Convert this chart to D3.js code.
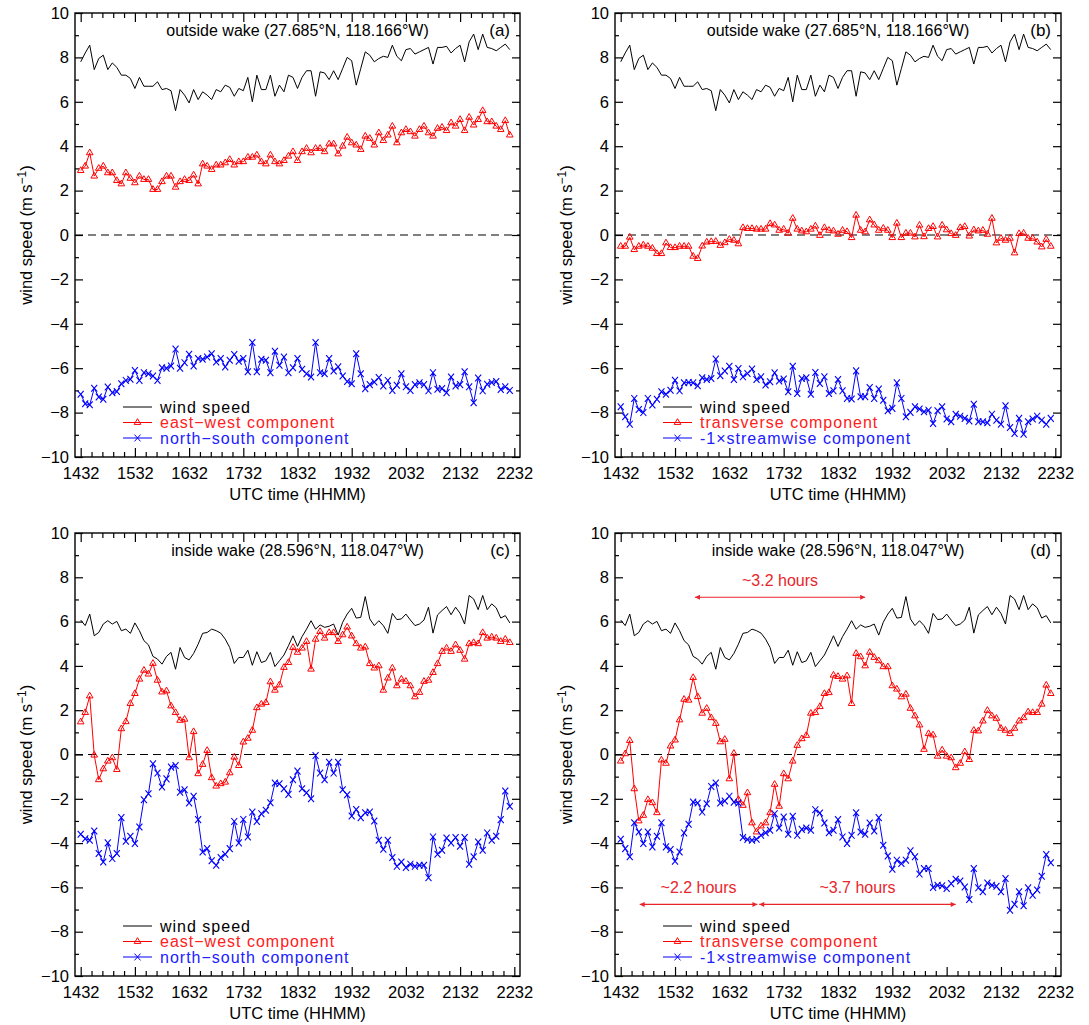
<!DOCTYPE html>
<html>
<head>
<meta charset="utf-8">
<script src="https://cdn.jsdelivr.net/npm/d3@7"></script>
<style>
  body { margin: 0; background: #fff; }
  text { font-family: "Liberation Sans", Arial, Helvetica, sans-serif; }
</style>
</head>
<body>
<svg id="chart" width="1089" height="1025"></svg>
<script>
// sample times: minutes after 14:32 UTC, one every 5 min
var minutes = d3.range(0, 480, 5);
var hourTickLabels = ["1432", "1532", "1632", "1732", "1832", "1932", "2032", "2132", "2232"];
var yTickValues = [-10, -8, -6, -4, -2, 0, 2, 4, 6, 8, 10];

// outside wake
var speedOutside = [7.8, 8.2, 8.55, 7.45, 7.95, 8.1, 7.45, 7.75, 7.55, 7.2,
  7.2, 7.05, 6.6, 7.1, 6.7, 6.7, 6.7, 6.9, 6.55, 6.6,
  6.5, 5.6, 6.55, 6.3, 5.95, 6.55, 6.1, 6.45, 6.3, 6.1,
  6.55, 6.45, 6.75, 6.65, 6.25, 6.6, 6.5, 7.1, 6.0, 7.2,
  6.55, 6.55, 7.2, 6.25, 6.75, 6.45, 7.2, 7.1, 6.6, 7.1,
  7.4, 7.4, 6.25, 7.35, 7.3, 7.0, 7.4, 7.0, 7.5, 8.0,
  7.85, 6.75, 7.5, 8.25, 8.1, 7.8, 7.95, 8.05, 8.0, 8.55,
  8.05, 7.85, 8.35, 8.4, 8.15, 8.25, 8.35, 8.45, 7.7, 8.45,
  8.45, 8.5, 8.2, 8.4, 8.55, 7.8, 8.7, 9.05, 8.35, 9.05,
  8.45, 8.4, 8.3, 8.45, 8.6, 8.35];
var eastWestOutside = [2.9, 3.1, 3.7, 2.65, 3.0, 3.1, 2.8, 2.8, 2.45, 2.3,
  2.8, 2.55, 2.35, 2.65, 2.5, 2.5, 2.05, 2.05, 2.4, 2.65,
  2.65, 2.15, 2.4, 2.5, 2.45, 2.7, 2.3, 3.2, 3.1, 2.95,
  3.15, 3.15, 3.25, 3.4, 3.15, 3.3, 3.3, 3.5, 3.5, 3.6,
  3.3, 3.2, 3.6, 3.3, 3.2, 3.35, 3.55, 3.75, 3.35, 3.75,
  3.9, 3.7, 3.9, 3.9, 3.75, 4.1, 4.1, 3.65, 4.0, 4.4,
  4.15, 4.05, 3.85, 4.45, 4.35, 4.05, 4.6, 4.25, 4.5, 4.9,
  4.15, 4.6, 4.75, 4.65, 4.45, 4.75, 4.9, 4.6, 4.45, 4.8,
  4.85, 4.7, 5.05, 4.9, 5.2, 4.7, 5.3, 4.95, 5.2, 5.6,
  5.1, 5.1, 4.9, 4.75, 5.15, 4.5];
var northSouthOutside = [-7.17, -7.6, -7.65, -6.9, -7.3, -7.4, -6.85, -7.1, -7.05, -6.7,
  -6.55, -6.5, -6.1, -6.55, -6.2, -6.25, -6.35, -6.55, -5.98, -6.0,
  -5.9, -5.14, -6.0, -5.75, -5.37, -5.9, -5.56, -5.6, -5.5, -5.35,
  -5.72, -5.56, -5.94, -5.64, -5.38, -5.69, -5.56, -6.16, -4.84, -6.16,
  -5.6, -5.64, -6.2, -5.24, -5.87, -5.5, -6.2, -5.98, -5.56, -6.05,
  -6.25, -6.4, -4.84, -6.2, -6.25, -5.56, -6.13, -5.94, -6.35, -6.6,
  -6.7, -5.35, -6.25, -6.92, -6.74, -6.62, -6.42, -6.8, -6.55, -7.0,
  -6.77, -6.25, -6.84, -7.0, -6.74, -6.66, -6.74, -7.02, -6.2, -6.95,
  -6.92, -7.1, -6.4, -6.8, -6.74, -6.16, -6.84, -7.56, -6.44, -7.02,
  -6.72, -6.64, -6.6, -6.96, -6.84, -7.0];
var transverseOutside = [-0.51, -0.51, -0.1, -0.66, -0.51, -0.45, -0.51, -0.6, -0.84, -0.84,
  -0.36, -0.57, -0.57, -0.51, -0.51, -0.51, -0.96, -1.06, -0.5, -0.32,
  -0.3, -0.29, -0.47, -0.35, -0.2, -0.24, -0.4, 0.33, 0.29, 0.29,
  0.26, 0.26, 0.26, 0.51, 0.45, 0.21, 0.26, 0.08, 0.75, 0.26,
  0.18, 0.14, 0.26, 0.4, -0.02, 0.33, 0.21, 0.18, 0.03, 0.21,
  0.15, -0.12, 0.89, 0.21, 0.14, 0.68, 0.45, 0.21, 0.3, 0.21,
  -0.12, 0.53, -0.12, 0.08, 0.08, -0.09, 0.44, -0.08, 0.29, 0.38,
  -0.09, 0.44, 0.23, 0.06, -0.02, 0.33, 0.38, -0.05, 0.23, 0.18,
  0.21, 0.03, 0.75, -0.36, -0.15, -0.24, -0.15, -0.81, 0.06, 0.08,
  -0.15, -0.15, -0.32, -0.54, -0.2, -0.51];
var streamwiseOutside = [-7.74, -8.19, -8.52, -7.36, -7.86, -8.0, -7.36, -7.66, -7.4, -7.06,
  -7.17, -6.99, -6.54, -7.02, -6.66, -6.64, -6.66, -6.79, -6.43, -6.51,
  -6.46, -5.59, -6.34, -6.13, -5.91, -6.51, -6.01, -6.39, -6.24, -6.04,
  -6.51, -6.39, -6.76, -6.61, -6.21, -6.58, -6.49, -7.06, -5.91, -7.14,
  -6.46, -6.43, -7.17, -6.19, -6.69, -6.39, -7.14, -7.02, -6.51, -7.02,
  -7.36, -7.39, -6.12, -7.29, -7.29, -6.87, -7.36, -6.94, -7.44, -7.92,
  -7.81, -6.66, -7.36, -8.19, -7.99, -7.74, -7.84, -7.96, -7.89, -8.49,
  -7.92, -7.74, -8.29, -8.41, -8.08, -8.16, -8.26, -8.38, -7.62, -8.41,
  -8.41, -8.46, -8.07, -8.34, -8.52, -7.69, -8.67, -8.94, -8.26, -8.97,
  -8.41, -8.29, -8.16, -8.34, -8.52, -8.26];

// inside wake
var speedInside = [6.07, 5.82, 6.34, 5.36, 5.51, 5.89, 6.04, 5.89, 6.01, 5.59,
  5.66, 5.47, 5.94, 5.59, 5.14, 4.95, 4.43, 4.31, 4.08, 4.43,
  4.61, 3.85, 4.83, 4.38, 4.27, 4.56, 4.98, 5.47, 5.51, 5.66,
  5.59, 5.48, 5.21, 4.83, 4.11, 4.38, 4.38, 4.71, 4.03, 4.64,
  4.15, 4.23, 4.61, 3.97, 4.23, 4.49, 4.91, 5.36, 4.88, 5.32,
  5.66, 6.04, 5.66, 5.85, 5.74, 5.79, 5.89, 5.39, 5.97, 6.34,
  6.6, 6.16, 6.19, 7.13, 6.12, 5.82, 6.04, 5.82, 5.47, 6.37,
  6.09, 6.12, 6.34, 6.07, 5.82, 5.89, 6.07, 6.65, 5.48, 6.3,
  6.5, 6.68, 6.31, 6.65, 6.37, 5.89, 7.18, 7.02, 6.54, 7.18,
  6.54, 6.8, 6.62, 6.16, 6.27, 5.94];
var eastWestInside = [1.47, 1.89, 2.64, -0.03, -1.14, -0.65, -0.3, -0.15, -0.68, 1.16,
  1.48, 2.3, 2.75, 3.4, 3.8, 3.63, 4.11, 3.35, 2.82, 2.87,
  2.19, 1.89, 1.54, 1.59, -0.15, 1.03, -0.87, -0.45, 0.18, -1.05,
  -1.43, -1.32, -1.25, -0.83, -0.12, -0.5, 0.56, 0.73, 1.09, 2.11,
  2.27, 2.34, 3.28, 2.9, 3.14, 3.93, 4.15, 4.83, 4.61, 4.8,
  5.1, 3.85, 5.2, 5.55, 5.25, 5.5, 5.5, 5.1, 5.4, 5.75,
  5.35, 5.0, 4.8, 4.85, 4.1, 3.9, 4.0, 2.9, 3.45, 3.9,
  3.1, 3.4, 3.3, 3.1, 2.6, 2.8, 3.3, 3.35, 3.7, 4.1,
  4.65, 4.8, 4.65, 4.95, 4.7, 4.3, 5.0, 5.05, 5.0, 5.5,
  5.25, 5.3, 5.25, 5.1, 5.2, 5.05];
var northSouthInside = [-3.6, -3.8, -3.87, -3.45, -4.47, -4.85, -3.99, -4.7, -4.47, -2.85,
  -3.92, -3.69, -4.02, -3.27, -2.04, -1.77, -0.42, -0.84, -1.47, -1.1,
  -0.57, -0.5, -1.7, -1.59, -2.19, -1.89, -2.94, -4.4, -4.25, -4.8,
  -5.0, -4.65, -4.5, -4.25, -3.02, -3.99, -2.93, -3.72, -2.6, -3.02,
  -2.67, -2.52, -2.18, -1.29, -1.32, -1.55, -1.8, -1.14, -0.75, -1.55,
  -1.73, -2.0, -0.05, -0.84, -1.14, -0.35, -0.84, -0.35, -1.59, -1.82,
  -2.78, -2.48, -2.85, -2.63, -2.6, -3.0, -3.87, -4.28, -3.87, -4.65,
  -5.05, -4.85, -5.1, -4.95, -5.05, -5.0, -5.0, -5.56, -3.72, -4.5,
  -4.32, -3.77, -3.99, -3.75, -4.14, -3.75, -4.95, -4.62, -3.95, -4.32,
  -3.54, -3.87, -3.69, -2.94, -1.65, -2.34];
var transverseInside = [-0.3, 0.03, 0.63, -1.55, -3.0, -2.75, -2.04, -2.18, -2.63, -0.25,
  -0.4, 0.38, 0.65, 1.56, 2.49, 2.45, 3.47, 2.61, 1.86, 2.08,
  1.66, 1.4, 0.57, 0.68, -1.1, 0.05, -2.04, -2.3, -1.73, -3.09,
  -3.5, -3.23, -3.09, -2.63, -1.35, -2.34, -0.87, -1.1, -0.3, 0.41,
  0.71, 0.86, 1.86, 1.89, 2.16, 2.75, 2.79, 3.58, 3.52, 3.4,
  3.55, 2.3, 4.56, 4.41, 4.0, 4.61, 4.38, 4.23, 3.96, 3.96,
  3.1, 2.95, 2.6, 2.72, 2.08, 1.74, 1.33, 0.23, 0.94, 0.88,
  -0.08, 0.2, -0.08, -0.15, -0.6, -0.4, 0.12, -0.23, 1.09, 1.06,
  1.51, 1.99, 1.74, 1.63, 1.18, 1.09, 0.94, 1.18, 1.51, 1.66,
  1.92, 1.89, 1.89, 2.27, 3.13, 2.75];
var streamwiseInside = [-3.83, -4.25, -4.62, -3.08, -3.5, -4.02, -3.5, -4.17, -3.69, -3.08,
  -4.17, -4.29, -4.82, -4.4, -3.54, -3.15, -2.15, -2.19, -2.6, -2.22,
  -1.44, -1.29, -2.19, -2.1, -1.88, -2.15, -2.19, -3.75, -3.84, -3.87,
  -3.83, -3.65, -3.53, -3.42, -2.67, -3.32, -2.82, -3.6, -2.79, -3.65,
  -3.38, -3.32, -3.42, -2.49, -2.64, -3.09, -3.53, -3.42, -2.94, -3.72,
  -4.02, -3.65, -2.63, -3.5, -3.6, -3.09, -3.45, -2.85, -4.1, -4.58,
  -5.18, -4.77, -4.92, -4.77, -4.35, -4.62, -5.4, -5.15, -5.15, -6.0,
  -5.9, -5.93, -6.05, -5.83, -5.63, -5.71, -5.98, -6.55, -5.15, -6.02,
  -6.2, -5.8, -5.9, -5.95, -6.2, -5.6, -7.03, -6.76, -6.2, -6.83,
  -6.02, -6.35, -6.12, -5.5, -4.52, -4.89];

// period annotations for panel (d): minutes after 14:32, height in m/s
var periodLabels = ["~3.2 hours", "~2.2 hours", "~3.7 hours"];
var periodStart = [82, 21, 153];
var periodEnd = [270, 151, 370];
var periodLevel = [7.1, -6.77, -6.77];

var legendUV = ["wind speed", "east\u2212west component", "north\u2212south component"];
var legendRot = ["wind speed", "transverse component", "-1\u00d7streamwise component"];

var panels = [
  { tag: "(a)", title: "outside wake (27.685\u00b0N, 118.166\u00b0W)", left: 75, right: 520, top: 13, bottom: 457,
    speed: speedOutside, red: eastWestOutside, blue: northSouthOutside, legend: legendUV },
  { tag: "(b)", title: "outside wake (27.685\u00b0N, 118.166\u00b0W)", left: 615, right: 1061, top: 13, bottom: 457,
    speed: speedOutside, red: transverseOutside, blue: streamwiseOutside, legend: legendRot },
  { tag: "(c)", title: "inside wake (28.596\u00b0N, 118.047\u00b0W)", left: 75, right: 520, top: 533, bottom: 976,
    speed: speedInside, red: eastWestInside, blue: northSouthInside, legend: legendUV },
  { tag: "(d)", title: "inside wake (28.596\u00b0N, 118.047\u00b0W)", left: 615, right: 1061, top: 533, bottom: 976,
    speed: speedInside, red: transverseInside, blue: streamwiseInside, legend: legendRot, periods: true }
];

var svg = d3.select("#chart");
var annoRed = "#e8252b";

svg.append("defs").append("marker")
  .attr("id", "arrow")
  .attr("viewBox", "0 0 10 10")
  .attr("refX", 10).attr("refY", 5)
  .attr("markerWidth", 8).attr("markerHeight", 5)
  .attr("markerUnits", "userSpaceOnUse")
  .attr("orient", "auto-start-reverse")
  .append("path")
  .attr("d", "M0,0L10,5L0,10Z")
  .attr("fill", annoRed);

var triPath = d3.symbol().type(d3.symbolTriangle).size(19)();
var crossPath = "M-3,-3.4L3,3.4M-3,3.4L3,-3.4";

function fmtY(d) { return d < 0 ? "\u2212" + (-d) : "" + d; }

function stripAxis(sel) {
  sel.attr("font-size", null).attr("font-family", null);
  sel.select(".domain").remove();
  sel.selectAll("line").attr("stroke", "#000").attr("stroke-width", 1.2);
}

function drawPanel(p) {
  var x = d3.scaleLinear().domain([-6.3, 486.3]).range([p.left, p.right]);
  var y = d3.scaleLinear().domain([-10, 10]).range([p.bottom, p.top]);
  var g = svg.append("g");

  var majorX = d3.range(0, 481, 60);
  var minorX = d3.range(0, 487, 12).filter(function(d) { return d % 60 !== 0; });
  var minorY = d3.range(-9, 10, 2);

  // zero line
  g.append("line")
    .attr("x1", p.left).attr("x2", p.right)
    .attr("y1", y(0)).attr("y2", y(0))
    .attr("stroke", "#000").attr("stroke-width", 1)
    .attr("stroke-dasharray", "8,5");

  // bottom axis
  g.append("g").attr("transform", "translate(0," + p.bottom + ")")
    .call(d3.axisBottom(x).tickValues(majorX).tickSize(-9).tickPadding(6)
      .tickFormat(function(d, i) { return hourTickLabels[i]; }))
    .call(stripAxis)
    .selectAll("text").attr("font-size", 16.5).attr("fill", "#000").attr("dy", "0.95em");
  g.append("g").attr("transform", "translate(0," + p.bottom + ")")
    .call(d3.axisBottom(x).tickValues(minorX).tickSize(-5).tickFormat(""))
    .call(stripAxis);
  // top axis
  g.append("g").attr("transform", "translate(0," + p.top + ")")
    .call(d3.axisTop(x).tickValues(majorX).tickSize(-9).tickFormat(""))
    .call(stripAxis);
  g.append("g").attr("transform", "translate(0," + p.top + ")")
    .call(d3.axisTop(x).tickValues(minorX).tickSize(-5).tickFormat(""))
    .call(stripAxis);
  // left axis
  g.append("g").attr("transform", "translate(" + p.left + ",0)")
    .call(d3.axisLeft(y).tickValues(yTickValues).tickSize(-8).tickPadding(6).tickFormat(fmtY))
    .call(stripAxis)
    .selectAll("text").attr("font-size", 16.5).attr("fill", "#000");
  g.append("g").attr("transform", "translate(" + p.left + ",0)")
    .call(d3.axisLeft(y).tickValues(minorY).tickSize(-4).tickFormat(""))
    .call(stripAxis);
  // right axis
  g.append("g").attr("transform", "translate(" + p.right + ",0)")
    .call(d3.axisRight(y).tickValues(yTickValues).tickSize(-8).tickFormat(""))
    .call(stripAxis);
  g.append("g").attr("transform", "translate(" + p.right + ",0)")
    .call(d3.axisRight(y).tickValues(minorY).tickSize(-4).tickFormat(""))
    .call(stripAxis);

  g.append("rect")
    .attr("x", p.left).attr("y", p.top)
    .attr("width", p.right - p.left).attr("height", p.bottom - p.top)
    .attr("fill", "none").attr("stroke", "#000").attr("stroke-width", 1.4);

  var line = d3.line()
    .x(function(d, i) { return x(minutes[i]); })
    .y(function(d) { return y(d); });

  // wind speed
  g.append("path").datum(p.speed)
    .attr("d", line).attr("fill", "none")
    .attr("stroke", "#000").attr("stroke-width", 1);

  // red component with triangles
  g.append("path").datum(p.red)
    .attr("d", line).attr("fill", "none")
    .attr("stroke", "#ff0000").attr("stroke-width", 1);
  g.selectAll(".tri").data(p.red).enter().append("path")
    .attr("class", "tri")
    .attr("d", triPath)
    .attr("transform", function(d, i) { return "translate(" + x(minutes[i]) + "," + y(d) + ")"; })
    .attr("fill", "none").attr("stroke", "#ff0000").attr("stroke-width", 1);

  // blue component with crosses
  g.append("path").datum(p.blue)
    .attr("d", line).attr("fill", "none")
    .attr("stroke", "#0000ff").attr("stroke-width", 1);
  g.selectAll(".crs").data(p.blue).enter().append("path")
    .attr("class", "crs")
    .attr("d", crossPath)
    .attr("transform", function(d, i) { return "translate(" + x(minutes[i]) + "," + y(d) + ")"; })
    .attr("fill", "none").attr("stroke", "#0000ff").attr("stroke-width", 1.1);

  // titles
  g.append("text")
    .attr("x", (p.left + p.right) / 2).attr("y", p.top + 23)
    .attr("text-anchor", "middle").attr("font-size", 16)
    .text(p.title);
  g.append("text")
    .attr("x", p.right - 10).attr("y", p.top + 23)
    .attr("text-anchor", "end").attr("font-size", 17)
    .text(p.tag);

  g.append("text")
    .attr("x", (p.left + p.right) / 2).attr("y", p.bottom + 43)
    .attr("text-anchor", "middle").attr("font-size", 16.5)
    .text("UTC time (HHMM)");

  var yl = g.append("text")
    .attr("transform", "translate(" + (p.left - 43) + "," + ((p.top + p.bottom) / 2) + ") rotate(-90)")
    .attr("text-anchor", "middle").attr("font-size", 16.5);
  yl.append("tspan").text("wind speed (m s");
  yl.append("tspan").attr("dy", -6).attr("font-size", 12).text("\u22121");
  yl.append("tspan").attr("dy", 6).text(")");

  // legend
  var colors = ["#000", "#ff0000", "#0000ff"];
  var shapes = [null, triPath, crossPath];
  p.legend.forEach(function(lbl, k) {
    var ly = p.bottom - 50 + k * 15.5;
    var lx0 = p.left + 48, lx1 = p.left + 77;
    g.append("line").attr("x1", lx0).attr("x2", lx1).attr("y1", ly).attr("y2", ly)
      .attr("stroke", colors[k]).attr("stroke-width", 1);
    if (shapes[k]) {
      g.append("path").attr("d", shapes[k])
        .attr("transform", "translate(" + ((lx0 + lx1) / 2) + "," + ly + ")")
        .attr("fill", "none").attr("stroke", colors[k]).attr("stroke-width", 1);
    }
    g.append("text")
      .attr("x", p.left + 85).attr("y", ly + 5.5)
      .attr("font-size", 16).attr("letter-spacing", 1)
      .attr("fill", colors[k] === "#000" ? "#000" : (k === 1 ? "#ff2020" : "#2020ff"))
      .text(lbl);
  });

  if (p.periods) {
    periodLabels.forEach(function(lbl, k) {
      var yy = y(periodLevel[k]);
      g.append("line")
        .attr("x1", x(periodStart[k])).attr("x2", x(periodEnd[k]))
        .attr("y1", yy).attr("y2", yy)
        .attr("stroke", annoRed).attr("stroke-width", 1.2)
        .attr("marker-start", "url(#arrow)").attr("marker-end", "url(#arrow)");
      g.append("text")
        .attr("x", (x(periodStart[k]) + x(periodEnd[k])) / 2).attr("y", yy - 11)
        .attr("text-anchor", "middle").attr("font-size", 16)
        .attr("fill", annoRed)
        .text(lbl);
    });
  }
}

panels.forEach(drawPanel);
</script>
</body>
</html>
